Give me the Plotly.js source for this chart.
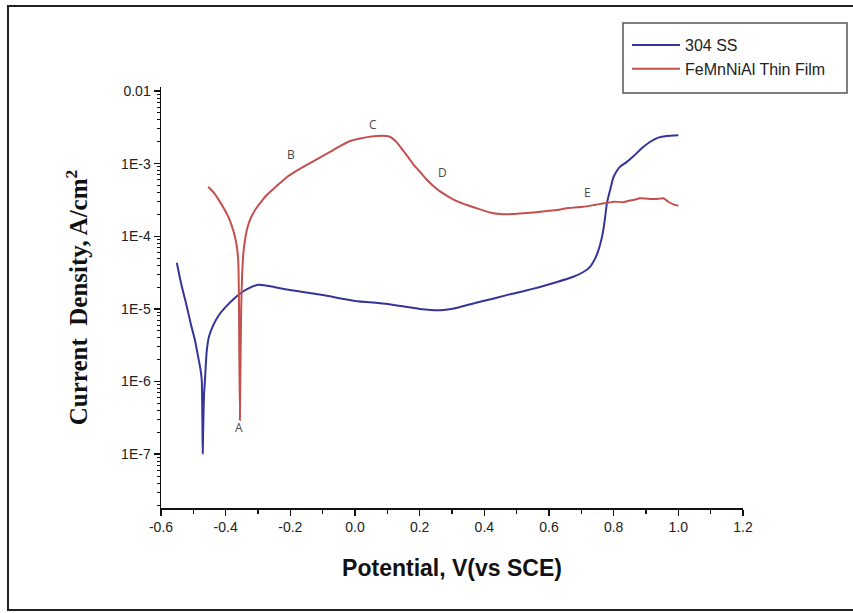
<!DOCTYPE html>
<html>
<head>
<meta charset="utf-8">
<script src="https://cdn.plot.ly/plotly-3.0.1.min.js"></script>
<style>
  html, body { margin: 0; padding: 0; background: #ffffff; }
  #chart { width: 853px; height: 613px; }
</style>
</head>
<body>
<div id="chart"></div>
<script>
// ---- data (potential in V vs SCE, current density in A/cm2) ----
var seriesNames = ["304 SS", "FeMnNiAl Thin Film"];

var ssPotential = [-0.551, -0.538, -0.520, -0.507, -0.495, -0.486, -0.479, -0.474, -0.472, -0.471,
  -0.469, -0.467, -0.464, -0.459, -0.452, -0.439, -0.421, -0.397, -0.377, -0.356,
  -0.331, -0.300, -0.280, -0.250, -0.201, -0.100, 0.000, 0.100, 0.200, 0.263, 0.320,
  0.366, 0.420, 0.469, 0.520, 0.572, 0.625, 0.675, 0.705, 0.727, 0.745,
  0.753, 0.762, 0.768, 0.774, 0.779, 0.785, 0.789, 0.795, 0.800, 0.810,
  0.820, 0.840, 0.861, 0.885, 0.913, 0.940, 0.964, 1.000];
var ssCurrent = [4.32e-5, 2.26e-5, 1.07e-5, 6.0e-6, 3.7e-6, 2.3e-6, 1.58e-6, 1.05e-6, 2.95e-7, 1.02e-7,
  2.95e-7, 6.5e-7, 1.05e-6, 2.5e-6, 4.1e-6, 5.9e-6, 8.2e-6, 1.1e-5, 1.35e-5, 1.62e-5,
  1.9e-5, 2.15e-5, 2.12e-5, 2.0e-5, 1.82e-5, 1.55e-5, 1.29e-5, 1.17e-5, 1.0e-5, 9.6e-6, 1.05e-5,
  1.19e-5, 1.36e-5, 1.55e-5, 1.75e-5, 2.01e-5, 2.35e-5, 2.77e-5, 3.2e-5, 3.8e-5, 5.2e-5,
  6.46e-5, 9.0e-5, 1.22e-4, 1.9e-4, 2.84e-4, 3.7e-4, 4.33e-4, 5.6e-4, 6.6e-4, 8.0e-4,
  9.1e-4, 1.05e-3, 1.26e-3, 1.6e-3, 2.0e-3, 2.3e-3, 2.4e-3, 2.45e-3];

var filmPotential = [-0.454, -0.435, -0.418, -0.405, -0.392, -0.380, -0.371, -0.365, -0.361, -0.359,
  -0.358, -0.356, -0.354, -0.352, -0.349, -0.345, -0.340, -0.333, -0.322, -0.309,
  -0.290, -0.273, -0.250, -0.230, -0.211, -0.180, -0.149, -0.110, -0.077, -0.045,
  -0.015, 0.016, 0.057, 0.085, 0.103, 0.115, 0.130, 0.145, 0.165, 0.180,
  0.200, 0.222, 0.245, 0.263, 0.290, 0.315, 0.346, 0.387, 0.418, 0.449,
  0.490, 0.521, 0.560, 0.600, 0.624, 0.660, 0.680, 0.706, 0.740, 0.770,
  0.789, 0.800, 0.830, 0.850, 0.861, 0.882, 0.900, 0.930, 0.954, 0.969,
  0.985, 1.000];
var filmCurrent = [4.8e-4, 3.9e-4, 3.0e-4, 2.4e-4, 1.86e-4, 1.35e-4, 9.8e-5, 7.0e-5, 4.5e-5, 1.5e-5,
  3.0e-6, 2.95e-7, 2.0e-6, 1.0e-5, 3.0e-5, 6.0e-5, 9.0e-5, 1.3e-4, 1.8e-4, 2.3e-4,
  3.0e-4, 3.7e-4, 4.6e-4, 5.5e-4, 6.5e-4, 8.0e-4, 9.6e-4, 1.2e-3, 1.45e-3, 1.75e-3,
  2.05e-3, 2.22e-3, 2.38e-3, 2.42e-3, 2.38e-3, 2.25e-3, 1.95e-3, 1.6e-3, 1.22e-3, 9.8e-4,
  7.8e-4, 6.0e-4, 4.8e-4, 4.15e-4, 3.5e-4, 3.05e-4, 2.7e-4, 2.35e-4, 2.12e-4, 2.02e-4,
  2.02e-4, 2.07e-4, 2.15e-4, 2.25e-4, 2.3e-4, 2.45e-4, 2.5e-4, 2.55e-4, 2.7e-4, 2.85e-4,
  2.93e-4, 3.0e-4, 2.95e-4, 3.1e-4, 3.16e-4, 3.33e-4, 3.3e-4, 3.25e-4, 3.33e-4, 2.99e-4,
  2.75e-4, 2.63e-4];

// point labels A-E on the film curve (x in V, y in A/cm2)
var pointLabels = ["A", "B", "C", "D", "E"];
var pointLabelX = [-0.359, -0.198, 0.056, 0.272, 0.718];
var pointLabelY = [2.35e-7, 1.32e-3, 3.5e-3, 7.65e-4, 4.07e-4];

// axis ticks
var xTickVals = [-0.6, -0.4, -0.2, 0.0, 0.2, 0.4, 0.6, 0.8, 1.0, 1.2];
var xTickText = ["-0.6", "-0.4", "-0.2", "0.0", "0.2", "0.4", "0.6", "0.8", "1.0", "1.2"];
var yTickVals = [1e-7, 1e-6, 1e-5, 1e-4, 1e-3, 1e-2];
var yTickText = ["1E-7", "1E-6", "1E-5", "1E-4", "1E-3", "0.01"];

// ---- layout helpers (pixel -> paper) ----
var L = 161, R = 743, T = 87, B = 508, W = 853, H = 613;
function px(x) { return (x - L) / (R - L); }
function py(y) { return (B - y) / (B - T); }

var traces = [
  { x: ssPotential, y: ssCurrent, name: seriesNames[0], type: "scatter", mode: "lines",
    line: { color: "#34349a", width: 2, shape: "spline", smoothing: 0.5 } },
  { x: filmPotential, y: filmCurrent, name: seriesNames[1], type: "scatter", mode: "lines",
    line: { color: "#c4504e", width: 2, shape: "spline", smoothing: 0.5 } }
];

var annotations = [];
for (var i = 0; i < pointLabels.length; i++) {
  annotations.push({ x: pointLabelX[i], y: Math.log10(pointLabelY[i]), xref: "x", yref: "y",
    text: pointLabels[i], showarrow: false,
    font: { family: "Open Sans, Arial, sans-serif", size: 12, color: "#4a4a4a" } });
}

var layout = {
  width: W, height: H,
  margin: { l: L, r: W - R, t: T, b: H - B, pad: 0 },
  paper_bgcolor: "#ffffff", plot_bgcolor: "#ffffff",
  showlegend: true,
  legend: { x: px(627), y: py(28), xanchor: "left", yanchor: "top",
    bgcolor: "rgba(0,0,0,0)", borderwidth: 0, itemwidth: 48, tracegroupgap: 0,
    font: { family: "Liberation Sans, Arial, sans-serif", size: 16, color: "#222" } },
  xaxis: {
    range: [-0.6, 1.2], tickvals: xTickVals, ticktext: xTickText,
    showgrid: false, zeroline: false, showline: true, linecolor: "#111", linewidth: 1.5,
    ticks: "outside", ticklen: 6, tickwidth: 1.5, tickcolor: "#111",
    minor: { dtick: 0.1, tick0: 0, ticks: "outside", ticklen: 4, tickwidth: 1.2, tickcolor: "#111", showgrid: false },
    tickfont: { family: "Liberation Sans, Arial, sans-serif", size: 14, color: "#222" },
    title: { text: "<b>Potential, V(vs SCE)</b>", standoff: 25,
      font: { family: "Liberation Sans, Arial, sans-serif", size: 23, color: "#111" } }
  },
  yaxis: {
    type: "log", range: [-7.74, -1.945],
    tickvals: yTickVals, ticktext: yTickText,
    showgrid: false, zeroline: false, showline: true, linecolor: "#111", linewidth: 1.5,
    ticks: "outside", ticklen: 6, tickwidth: 1.5, tickcolor: "#111",
    minor: { dtick: "D1", ticks: "outside", ticklen: 3, tickwidth: 1, tickcolor: "#111", showgrid: false },
    tickfont: { family: "Liberation Sans, Arial, sans-serif", size: 14, color: "#222" },
    title: { text: "<b>Current&nbsp; Density, A/cm<sup>2</sup></b>", standoff: 26,
      font: { family: "Liberation Serif, Times New Roman, serif", size: 25, color: "#111" } }
  },
  annotations: annotations,
  shapes: [
    // outer frame of the figure
    { type: "rect", xref: "paper", yref: "paper",
      x0: px(8), x1: px(870), y0: py(610), y1: py(6),
      line: { color: "#222", width: 2 }, fillcolor: "rgba(0,0,0,0)", layer: "above" },
    // legend box
    { type: "rect", xref: "paper", yref: "paper",
      x0: px(623), x1: px(847), y0: py(93), y1: py(23),
      line: { color: "#555", width: 1.5 }, fillcolor: "rgba(0,0,0,0)", layer: "above" }
  ]
};

Plotly.newPlot("chart", traces, layout, { displayModeBar: false, staticPlot: true });
</script>
</body>
</html>
